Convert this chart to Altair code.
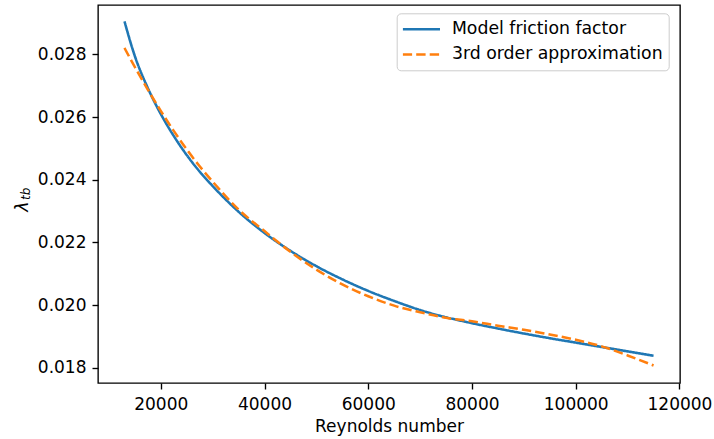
import altair as alt
import pandas as pd

# Reynolds numbers (x) and the two curves
re_values = [13000, 15000, 17500, 20000, 22500, 25000, 27500, 30000, 35000, 40000,
             45000, 50000, 55000, 60000, 65000, 70000, 75000, 80000, 85000, 90000,
             95000, 100000, 105000, 110000, 115000]
model_friction = [0.02906, 0.02795, 0.02693, 0.02610, 0.02540, 0.02479, 0.02426, 0.02380,
                  0.02298, 0.02230, 0.02173, 0.02124, 0.02082, 0.02045, 0.02013, 0.01984,
                  0.01961, 0.01942, 0.01925, 0.01909, 0.01894, 0.01880, 0.01866, 0.01852,
                  0.01838]
third_order = [0.02821, 0.02760, 0.02688, 0.02620, 0.02556, 0.02497, 0.02443, 0.02394,
               0.02305, 0.02236, 0.02170, 0.02113, 0.02066, 0.02028, 0.01998, 0.01977,
               0.01959, 0.01948, 0.01934, 0.01921, 0.01906, 0.01889, 0.01868, 0.01839,
               0.01807]

series_names = ["Model friction factor", "3rd order approximation"]
series_colors = ["#1f77b4", "#ff7f0e"]
series_dashes = [[1, 0], [9.4, 4.1]]

x_ticks = [20000, 40000, 60000, 80000, 100000, 120000]
y_ticks = [0.018, 0.020, 0.022, 0.024, 0.026, 0.028]
x_domain = [7900, 120100]
y_domain = [0.01751, 0.02958]

rows = []
for name, vals in zip(series_names, [model_friction, third_order]):
    for r, v in zip(re_values, vals):
        rows.append({"Re": r, "lam": v, "series": name})
df = pd.DataFrame(rows)

FONT = "DejaVu Sans"

x_enc = alt.X("Re:Q",
              scale=alt.Scale(domain=x_domain, nice=False, zero=False),
              axis=alt.Axis(values=x_ticks, format="d", title="Reynolds number",
                            labelFont=FONT, labelFontSize=17, labelColor="black",
                            labelFlush=False, labelOverlap=False,
                            tickColor="black", tickSize=6, tickWidth=1.36,
                            labelPadding=7, grid=False, domain=False,
                            titleFont=FONT, titleFontSize=17, titleFontWeight="normal",
                            titleColor="black", titlePadding=6))
y_enc = alt.Y("lam:Q",
              scale=alt.Scale(domain=y_domain, nice=False, zero=False),
              axis=alt.Axis(values=y_ticks, format=".3f", title=None,
                            labelFont=FONT, labelFontSize=17, labelColor="black",
                            labelFlush=False, labelOverlap=False,
                            tickColor="black", tickSize=6, tickWidth=1.36,
                            labelPadding=6, grid=False, domain=False))


def make_legend():
    return alt.Legend(orient="none", legendX=298.7, legendY=8.3,
                      title=None, symbolType="stroke",
                      symbolSize=1391, symbolStrokeWidth=2.55,
                      clipHeight=19.7, rowPadding=5.3, padding=6,
                      symbolOffset=-1.35, labelOffset=10.6,
                      labelFont=FONT, labelFontSize=17.3, labelLimit=0,
                      labelColor="black",
                      fillColor="rgba(255,255,255,0.8)",
                      strokeColor="#cccccc", cornerRadius=4)


color_enc = alt.Color("series:N",
                      scale=alt.Scale(domain=series_names, range=series_colors),
                      legend=make_legend())
dash_enc = alt.StrokeDash("series:N",
                          scale=alt.Scale(domain=series_names, range=series_dashes),
                          legend=make_legend())

base = alt.Chart(df)
line_model = base.transform_filter(alt.datum.series == series_names[0]).mark_line(
    strokeWidth=2.55, interpolate="monotone").encode(
    x=x_enc, y=y_enc, color=color_enc, strokeDash=dash_enc)
line_approx = base.transform_filter(alt.datum.series == series_names[1]).mark_line(
    strokeWidth=2.55, interpolate="monotone").encode(
    x=x_enc, y=y_enc, color=color_enc, strokeDash=dash_enc)

lam_text = alt.Chart(pd.DataFrame({"t": ["λ"]})).mark_text(
    angle=270, align="center", baseline="alphabetic", font=FONT,
    fontStyle="italic", fontSize=17.5, color="black").encode(
    x=alt.value(-70), y=alt.value(201.5), text="t:N")
sub_text = alt.Chart(pd.DataFrame({"t": ["tb"]})).mark_text(
    angle=270, align="left", baseline="alphabetic", font=FONT,
    fontStyle="italic", fontSize=12, color="black").encode(
    x=alt.value(-68.5), y=alt.value(195), text="t:N")

chart = alt.layer(line_model, line_approx, lam_text, sub_text).properties(
    width=582, height=378,
    autosize=alt.AutoSizeParams(type="none"),
    padding={"left": 98, "top": 5, "right": 34, "bottom": 56},
).configure_view(stroke="black", strokeWidth=1.36)

chart.save("out.html", embed_options={"renderer": "svg", "actions": False})
